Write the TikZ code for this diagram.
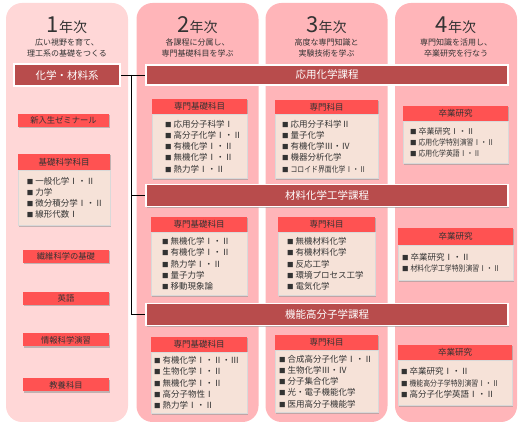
\documentclass[tikz,border=0pt]{standalone}
\usepackage{fontspec}
\usepackage{graphicx}
\setmainfont{Noto Sans CJK JP}
\usetikzlibrary{positioning, shadows}
\definecolor{colpale}{HTML}{FFD7D7}
\definecolor{colpink}{HTML}{FFB5B9}
\definecolor{bandred}{HTML}{B84C4C}
\definecolor{hdrred}{HTML}{FF5252}
\definecolor{peach}{HTML}{F6E2D8}
\definecolor{ink}{HTML}{333333}
\newcommand{\blt}{{\fontsize{6.5}{6.5}\selectfont ■}\kern2pt}
\newcommand{\sm}[1]{\scalebox{.86}[1]{\fontsize{8}{11}\selectfont #1}}

\begin{document}
\begin{tikzpicture}[x=1pt, y=-1pt,
    yearcol/.style={rounded corners=16pt, minimum width=122pt, minimum height=419pt, inner sep=0pt},
    shd/.style={drop shadow={shadow xshift=1.2pt, shadow yshift=-1.2pt, fill=black!40, opacity=.6}},
    band/.style={shd, fill=bandred, draw=white, line width=1.5pt, text=white,
                 font=\fontsize{10.5}{12}\selectfont, inner sep=0pt},
    tag/.style={shd, fill=hdrred, text=ink, font=\fontsize{8.3}{10}\selectfont,
                minimum height=13pt, inner sep=0pt},
    hdr/.style={shd, fill=hdrred, text=ink, font=\fontsize{8.5}{10}\selectfont, inner sep=0pt},
    lst/.style={shd, fill=peach, draw=black!15, text=ink, align=left,
                font=\fontsize{8.5}{11.2}\selectfont, inner ysep=0pt},
    yrtitle/.style={text=ink, anchor=base},
    yrnote/.style={text=ink, align=center, font=\fontsize{8}{10.5}\selectfont},
    link/.style={draw=black, line width=.8pt},
]
\useasboundingbox (0,0) rectangle (520,427);

% year columns
\node[yearcol, fill=colpale] (yr1) at (67,212.5) {};
\node[yearcol, fill=colpink] (yr2) at (197.5,212.5) {};
\node[yearcol, fill=colpink] (yr3) at (326.5,212.5) {};
\node[yearcol, fill=colpink] (yr4) at (456,212.5) {};

\node[yrtitle] (t1) at (67,33) {\fontsize{22}{22}\selectfont 1\fontsize{14}{14}\selectfont 年次};
\node[yrtitle] (t2) at (197.5,33) {\fontsize{22}{22}\selectfont 2\fontsize{14}{14}\selectfont 年次};
\node[yrtitle] (t3) at (326.5,33) {\fontsize{22}{22}\selectfont 3\fontsize{14}{14}\selectfont 年次};
\node[yrtitle] (t4) at (456,33) {\fontsize{22}{22}\selectfont 4\fontsize{14}{14}\selectfont 年次};
\node[yrnote] (n1) at (67,48) {広い視野を育て、\\理工系の基礎をつくる};
\node[yrnote] (n2) at (197.5,48) {各課程に分属し、\\専門基礎科目を学ぶ};
\node[yrnote] (n3) at (326.5,48) {高度な専門知識と\\実験技術を学ぶ};
\node[yrnote] (n4) at (456,48) {専門知識を活用し、\\卒業研究を行なう};

% courses
\node[band, minimum width=106pt, minimum height=22pt] (chem) at (67,75) {化学・材料系};
\node[band, minimum width=362pt, minimum height=20pt] (oyo) at (327,75) {応用化学課程};
\node[band, minimum width=362pt, minimum height=22pt] (zai) at (327,195.5) {材料化学工学課程};
\node[band, minimum width=362pt, minimum height=22pt] (kino) at (327,314.5) {機能高分子学課程};
\coordinate (fork) at (131,75);
\draw[link] (chem.east) -- (oyo.west);
\draw[link] (fork) |- (zai.west);
\draw[link] (fork) |- (kino.west);

% 1st year
\node[tag, minimum width=91pt] (semi) at (63.5,120.5) {新入生ゼミナール};
\node[hdr, minimum width=92pt, minimum height=16pt] (h1) at (64,162) {基礎科学科目};
\node[lst, below=0pt of h1, text width=74pt, inner xsep=9pt, minimum height=55pt] (b1)
   {\blt 一般化学Ⅰ・Ⅱ\\ \blt 力学\\ \blt 微分積分学Ⅰ・Ⅱ\\ \blt 線形代数Ⅰ};
\node[tag, minimum width=86pt] (sen) at (66,256.5) {繊維科学の基礎};
\node[tag, minimum width=86pt] (eng) at (66,298.5) {英語};
\node[tag, minimum width=86pt] (info) at (66,340) {情報科学演習};
\node[tag, minimum width=86pt] (kyo) at (66,385) {教養科目};

% 2nd year
\node[hdr, minimum width=95pt, minimum height=15pt] (h21) at (199.5,106.5) {専門基礎科目};
\node[lst, below=0pt of h21, text width=69pt, inner xsep=13pt, minimum height=64pt] (b21)
   {\blt 応用分子科学Ⅰ\\ \blt 高分子化学Ⅰ・Ⅱ\\ \blt 有機化学Ⅰ・Ⅱ\\ \blt 無機化学Ⅰ・Ⅱ\\ \blt 熱力学Ⅰ・Ⅱ};
\node[hdr, minimum width=96pt, minimum height=15pt] (h22) at (199,224.5) {専門基礎科目};
\node[lst, below=0pt of h22, text width=74pt, inner xsep=11pt, minimum height=63pt] (b22)
   {\blt 無機化学Ⅰ・Ⅱ\\ \blt 有機化学Ⅰ・Ⅱ\\ \blt 熱力学Ⅰ・Ⅱ\\ \blt 量子力学\\ \blt 移動現象論};
\node[hdr, minimum width=96pt, minimum height=15pt] (h23) at (199,344.5) {専門基礎科目};
\node[lst, below=0pt of h23, text width=90pt, inner xsep=3pt, minimum height=61pt] (b23)
   {\blt 有機化学Ⅰ・Ⅱ・Ⅲ\\ \blt 生物化学Ⅰ・Ⅱ\\ \blt 無機化学Ⅰ・Ⅱ\\ \blt 高分子物性Ⅰ\\ \blt 熱力学Ⅰ・Ⅱ};

% 3rd year
\node[hdr, minimum width=103pt, minimum height=14pt] (h31) at (326.5,107) {専門科目};
\node[lst, below=0pt of h31, text width=89pt, inner xsep=7pt, minimum height=64pt] (b31)
   {\blt 応用分子科学Ⅱ\\ \blt 量子化学\\ \blt 有機化学Ⅲ・Ⅳ\\ \blt 機器分析化学\\ \blt \sm{コロイド界面化学Ⅰ・Ⅱ}};
\node[hdr, minimum width=97pt, minimum height=15pt] (h32) at (326.5,224.5) {専門科目};
\node[lst, below=0pt of h32, text width=79pt, inner xsep=9pt, minimum height=63pt] (b32)
   {\blt 無機材料化学\\ \blt 有機材料化学\\ \blt 反応工学\\ \blt 環境プロセス工学\\ \blt 電気化学};
\node[hdr, minimum width=103pt, minimum height=15pt] (h33) at (326.5,342.5) {専門科目};
\node[lst, below=0pt of h33, text width=95pt, inner xsep=4pt, minimum height=62pt] (b33)
   {\blt 合成高分子化学Ⅰ・Ⅱ\\ \blt 生物化学Ⅲ・Ⅳ\\ \blt 分子集合化学\\ \blt 光・電子機能化学\\ \blt 医用高分子機能学};

% 4th year
\node[hdr, minimum width=105pt, minimum height=15pt] (h41) at (455.5,113.5) {卒業研究};
\node[lst, below=0pt of h41, text width=91pt, inner xsep=7pt, minimum height=42pt] (b41)
   {\blt {\fontsize{8}{11}\selectfont 卒業研究Ⅰ・Ⅱ}\\ \blt \sm{応用化学特別演習Ⅰ・Ⅱ}\\ \blt \sm{応用化学英語Ⅰ・Ⅱ}};
\node[hdr, minimum width=115pt, minimum height=17pt] (h42) at (455.5,236.5) {卒業研究};
\node[lst, below=0pt of h42, text width=107pt, inner xsep=4pt, minimum height=35pt] (b42)
   {\blt 卒業研究Ⅰ・Ⅱ\\ \blt \sm{材料化学工学特別演習Ⅰ・Ⅱ}};
\node[hdr, minimum width=114pt, minimum height=15pt] (h43) at (455,352.5) {卒業研究};
\node[lst, below=0pt of h43, text width=108pt, inner xsep=3pt, minimum height=45pt] (b43)
   {\blt 卒業研究Ⅰ・Ⅱ\\ \blt \sm{機能高分子学特別演習Ⅰ・Ⅱ}\\ \blt 高分子化学英語Ⅰ・Ⅱ};
\end{tikzpicture}
\end{document}
